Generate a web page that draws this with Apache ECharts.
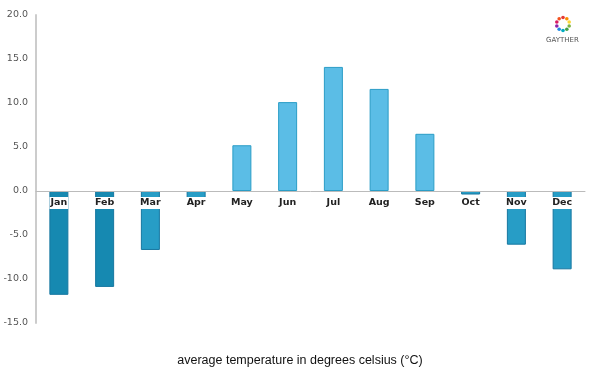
<!DOCTYPE html>
<html>
<head>
<meta charset="utf-8">
<script src="https://cdn.jsdelivr.net/npm/echarts@6/dist/echarts.min.js"></script>
<style>
  html, body { margin: 0; padding: 0; background: #fff; }
  #chart { width: 600px; height: 375px; }
</style>
</head>
<body>
<div id="chart"></div>
<script>
// monthly averages
const months = ['Jan', 'Feb', 'Mar', 'Apr', 'May', 'Jun', 'Jul', 'Aug', 'Sep', 'Oct', 'Nov', 'Dec'];
const temps = [-11.8, -10.9, -6.7, -0.8, 5.2, 10.1, 14.1, 11.6, 6.5, -0.4, -6.1, -8.9];
const logoColors = ['#e53935', '#fb8c00', '#fdd835', '#7cb342', '#43a047', '#00acc1', '#1e88e5', '#8e24aa', '#d81b60', '#f4511e'];

// colder months get a darker blue
function barColor(v) {
  if (v <= -10) return '#1689b1';
  if (v < 0) return '#279dc6';
  return '#5bbde6';
}

const chart = echarts.init(document.getElementById('chart'));

// little flower logo in the corner
const logo = [];
for (let i = 0; i < logoColors.length; i++) {
  const a = (i / logoColors.length) * Math.PI * 2 - Math.PI / 2;
  logo.push({
    type: 'circle',
    shape: { cx: 563 + Math.cos(a) * 6.5, cy: 24 + Math.sin(a) * 6.5, r: 1.8 },
    style: { fill: logoColors[i] },
    silent: true
  });
}
logo.push({
  type: 'text',
  left: 546, top: 37,
  style: { text: 'GAYTHER', fill: '#555', font: '7px "DejaVu Sans"' },
  silent: true
});

chart.setOption({
  backgroundColor: '#fff',
  animation: false,
  grid: { left: 36, right: 15, top: 15, bottom: 52 },
  title: {
    text: 'average temperature in degrees celsius (°C)',
    left: 'center',
    top: 349,
    textStyle: { fontFamily: 'Liberation Sans', fontSize: 12.5, fontWeight: 'normal', color: '#111' }
  },
  xAxis: {
    type: 'category',
    data: months,
    // line and labels sit on the 0 line (132px above the grid bottom)
    offset: -132,
    axisLine: { onZero: false, lineStyle: { color: '#bbb', width: 1 } },
    axisTick: { show: false },
    axisLabel: {
      color: '#222',
      fontFamily: 'DejaVu Sans',
      fontWeight: 'bold',
      fontSize: 9.5,
      margin: 6,
      backgroundColor: '#fff',
      padding: [1, 1, 1, 1]
    },
    z: 5
  },
  yAxis: {
    type: 'value',
    min: -15,
    max: 20,
    interval: 5,
    axisLine: { show: true, lineStyle: { color: '#ccc', width: 2 } },
    axisTick: { show: false },
    splitLine: { show: false },
    axisLabel: {
      color: '#555',
      fontFamily: 'DejaVu Sans',
      fontSize: 9.5,
      margin: 8,
      formatter: v => v.toFixed(1)
    }
  },
  series: [{
    type: 'bar',
    barWidth: 19,
    data: temps.map(v => ({
      value: v,
      itemStyle: { color: barColor(v), borderColor: v < 0 ? '#1677a0' : '#2a9dc6', borderWidth: 1 }
    }))
  }],
  graphic: logo
});
</script>
</body>
</html>
